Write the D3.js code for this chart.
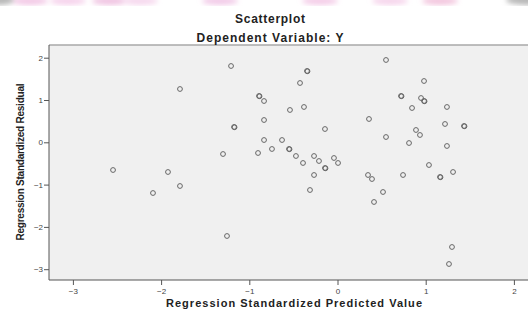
<!DOCTYPE html>
<html>
<head>
<meta charset="utf-8">
<script src="https://cdn.jsdelivr.net/npm/d3@7"></script>
<style>
  html, body { margin: 0; padding: 0; background: #fff; }
  svg { display: block; font-family: "Liberation Sans", Arial, sans-serif; }
</style>
</head>
<body>
<div id="chart"></div>
<script>
// Data
const predicted = [
  -2.545, -1.922, -2.092, -1.786, -1.786, -1.207, -0.346, -0.340, -0.425, -0.890, -0.884,
  -0.833, -0.539, -0.380, -0.833, -1.173, -1.167, -0.142, -0.833, -0.629, -0.743,
  -0.550, -0.544, -1.298, -0.901, -0.471, -0.266, -0.210, -0.040, 0.006, -0.391,
  -0.142, -0.136, -0.266, -0.312, -1.253,
  0.550, 0.981, 0.720, 0.726, 0.947, 0.981, 0.987, 0.845, 1.241, 0.357, 1.219, 1.434, 1.440,
  0.890, 0.935, 0.550, 0.811, 1.241, 1.037, 1.310, 0.346, 0.391, 0.743, 1.162, 1.168,
  0.516, 0.414, 1.298, 1.264
];
const residual = [
  -0.655, -0.702, -1.199, -1.033, 1.260, 1.804, 1.686, 1.680, 1.402, 1.095, 1.089,
  0.976, 0.764, 0.835, 0.527, 0.362, 0.356, 0.314, 0.054, 0.054, -0.158,
  -0.158, -0.164, -0.277, -0.253, -0.324, -0.324, -0.442, -0.371, -0.489, -0.489,
  -0.608, -0.614, -0.773, -1.128, -2.215,
  1.946, 1.449, 1.095, 1.089, 1.047, 0.976, 0.970, 0.811, 0.835, 0.551, 0.433, 0.385, 0.379,
  0.291, 0.173, 0.125, -0.017, -0.087, -0.537, -0.702, -0.773, -0.868, -0.773, -0.820, -0.826,
  -1.175, -1.411, -2.475, -2.877
];
const xTicks = [-3, -2, -1, 0, 1, 2];
const yTicks = [-3, -2, -1, 0, 1, 2];

const points = predicted.map((p, i) => ({ x: p, y: residual[i] }));

const W = 528, H = 309;
const svg = d3.select("#chart").append("svg").attr("width", W).attr("height", H);

// faint decorative strip at the very top
const defs = svg.append("defs");
defs.append("filter").attr("id", "blur").append("feGaussianBlur").attr("stdDeviation", 2.5);
const strip = svg.append("g").attr("filter", "url(#blur)");
[[30, "#f3c9e6"], [68, "#f6d3ec"], [110, "#f0c4e2"], [140, "#f6d8ee"], [220, "#f2cbe8"],
 [320, "#f4cde8"], [390, "#f6d5ec"], [440, "#f3c6de"]].forEach(d => {
  strip.append("ellipse").attr("cx", d[0]).attr("cy", 1).attr("rx", 18).attr("ry", 4).attr("fill", d[1]);
});
strip.append("ellipse").attr("cx", 0).attr("cy", 0).attr("rx", 14).attr("ry", 5).attr("fill", "#b8b8b8");
strip.append("ellipse").attr("cx", 528).attr("cy", 0).attr("rx", 22).attr("ry", 5).attr("fill", "#b8b8b8");

// plot frame
const plot = { left: 49, top: 45, right: 530, bottom: 280 };

const x = d3.scaleLinear().domain([0, 1]).range([337.5, 425.7]);
const y = d3.scaleLinear().domain([0, 1]).range([142.3, 100.0]);

svg.append("rect")
  .attr("x", plot.left).attr("y", plot.top)
  .attr("width", plot.right - plot.left).attr("height", plot.bottom - plot.top)
  .attr("fill", "#f0f0f0");

// top border
svg.append("line")
  .attr("x1", plot.left).attr("x2", plot.right)
  .attr("y1", plot.top).attr("y2", plot.top)
  .attr("stroke", "#a8a8a8").attr("stroke-width", 1.5);

// axes
const xAxis = svg.append("g")
  .attr("transform", `translate(0,${plot.bottom})`)
  .call(d3.axisBottom(x).tickValues(xTicks).tickSize(5).tickSizeOuter(0).tickFormat(d3.format("d")));
xAxis.select(".domain").attr("d", `M${plot.left},0H${plot.right}`).attr("stroke", "#555");
xAxis.selectAll(".tick line").attr("stroke", "#555");
xAxis.selectAll(".tick text").attr("y", 8).attr("fill", "#444")
  .style("font-size", "8px").style("font-family", "'Liberation Sans', Arial, sans-serif");

const yAxis = svg.append("g")
  .attr("transform", `translate(${plot.left},0)`)
  .call(d3.axisLeft(y).tickValues(yTicks).tickSize(5).tickSizeOuter(0).tickFormat(d3.format("d")));
yAxis.select(".domain").attr("d", `M0,${plot.top}V${plot.bottom}`).attr("stroke", "#555");
yAxis.selectAll(".tick line").attr("stroke", "#555");
yAxis.selectAll(".tick text").attr("x", -6).attr("fill", "#444")
  .style("font-size", "8px").style("font-family", "'Liberation Sans', Arial, sans-serif");

// points
svg.append("g").selectAll("circle")
  .data(points)
  .enter()
  .append("circle")
  .attr("cx", d => x(d.x))
  .attr("cy", d => y(d.y))
  .attr("r", 2.4)
  .attr("fill", "none")
  .attr("stroke", "#666")
  .attr("stroke-width", 1);

// titles
svg.append("text")
  .attr("x", 270).attr("y", 23)
  .attr("text-anchor", "middle")
  .attr("font-size", "12px").attr("font-weight", "bold").attr("fill", "#222")
  .attr("textLength", 70).attr("lengthAdjust", "spacing")
  .text("Scatterplot");

svg.append("text")
  .attr("x", 270).attr("y", 41.5)
  .attr("text-anchor", "middle")
  .attr("font-size", "12px").attr("font-weight", "bold").attr("fill", "#222")
  .attr("textLength", 147).attr("lengthAdjust", "spacing")
  .text("Dependent Variable: Y");

svg.append("text")
  .attr("x", 294).attr("y", 307)
  .attr("text-anchor", "middle")
  .attr("font-size", "11px").attr("font-weight", "bold").attr("fill", "#222")
  .attr("textLength", 256).attr("lengthAdjust", "spacing")
  .text("Regression Standardized Predicted Value");

svg.append("text")
  .attr("transform", "translate(23.5,162) rotate(-90)")
  .attr("text-anchor", "middle")
  .attr("font-size", "10px").attr("font-weight", "bold").attr("fill", "#222")
  .attr("textLength", 157).attr("lengthAdjust", "spacing")
  .text("Regression Standardized Residual");
</script>
</body>
</html>
